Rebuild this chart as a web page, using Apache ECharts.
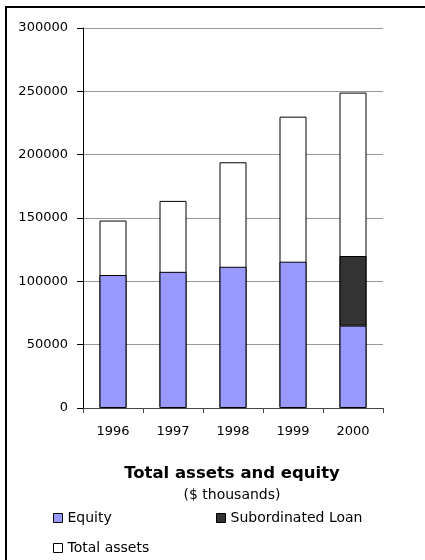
<!DOCTYPE html>
<html>
<head>
<meta charset="utf-8">
<script src="https://cdn.jsdelivr.net/npm/echarts@6/dist/echarts.min.js"></script>
<style>
  html, body { margin: 0; padding: 0; background: #fff; }
  #chart { width: 425px; height: 560px; }
</style>
</head>
<body>
<div id="chart"></div>
<script>
// Balance sheet summary, $ thousands
const years = ['1996', '1997', '1998', '1999', '2000'];
const equity = [105000, 107500, 111500, 115500, 65000];
const subordinatedLoan = ['-', '-', '-', '-', 55000];
const totalAssets = [148000, 163500, 194000, 230000, 249000];
const yTicks = [0, 50000, 100000, 150000, 200000, 250000, 300000];

const FONT = 'DejaVu Sans';
const chart = echarts.init(document.getElementById('chart'), null, { renderer: 'canvas' });

const legendBase = {
  orient: 'horizontal',
  icon: 'rect',
  itemWidth: 9,
  itemHeight: 9,
  itemGap: 5,
  selectedMode: false,
  textStyle: { fontFamily: FONT, fontSize: 14, color: '#000' },
  itemStyle: { borderColor: '#000', borderWidth: 1 },
  padding: 0
};

chart.setOption({
  animation: false,
  backgroundColor: '#fff',
  grid: { left: 83, right: 42, top: 28, bottom: 152, containLabel: false },
  title: [
    {
      text: 'Total assets and equity',
      left: 227, top: 460, textAlign: 'center',
      textStyle: { fontFamily: FONT, fontSize: 16.5, fontWeight: 'bold', color: '#000' }
    },
    {
      text: '($ thousands)',
      left: 227, top: 483, textAlign: 'center',
      textStyle: { fontFamily: FONT, fontSize: 14, fontWeight: 'normal', color: '#000' }
    }
  ],
  legend: [
    Object.assign({}, legendBase, { left: 53, top: 511, data: ['Equity'] }),
    Object.assign({}, legendBase, { left: 216, top: 511, data: ['Subordinated Loan'] }),
    Object.assign({}, legendBase, { left: 53, top: 541, data: ['Total assets'] })
  ],
  xAxis: {
    type: 'category',
    data: years,
    axisLine: { lineStyle: { color: '#444', width: 1 } },
    axisTick: { show: true, length: 5, lineStyle: { color: '#444' } },
    axisLabel: { fontFamily: FONT, fontSize: 13, color: '#000', margin: 17 }
  },
  yAxis: {
    type: 'value',
    min: yTicks[0],
    max: yTicks[yTicks.length - 1],
    interval: yTicks[1] - yTicks[0],
    axisLine: { show: true, lineStyle: { color: '#000', width: 1 } },
    axisTick: { show: true, length: 6, lineStyle: { color: '#000' } },
    axisLabel: {
      fontFamily: FONT, fontSize: 13, color: '#000', margin: 15,
      formatter: (v) => String(v)
    },
    splitLine: { show: true, lineStyle: { color: '#999', width: 1 } }
  },
  series: [
    {
      name: 'Total assets',
      type: 'bar',
      data: totalAssets,
      barWidth: '45%',
      barGap: '-100%',
      itemStyle: { color: '#fff', borderColor: '#000', borderWidth: 1 }
    },
    {
      name: 'Equity',
      type: 'bar',
      stack: 'capital',
      data: equity,
      barWidth: '45%',
      itemStyle: { color: '#9999FF', borderColor: '#000', borderWidth: 1 }
    },
    {
      name: 'Subordinated Loan',
      type: 'bar',
      stack: 'capital',
      data: subordinatedLoan,
      barWidth: '45%',
      itemStyle: { color: '#333333', borderColor: '#000', borderWidth: 1 }
    }
  ],
  graphic: [
    {
      type: 'rect',
      shape: { x: 6, y: 7, width: 440, height: 580 },
      style: { fill: 'none', stroke: '#000', lineWidth: 2 },
      z: 100
    }
  ]
});
</script>
</body>
</html>
